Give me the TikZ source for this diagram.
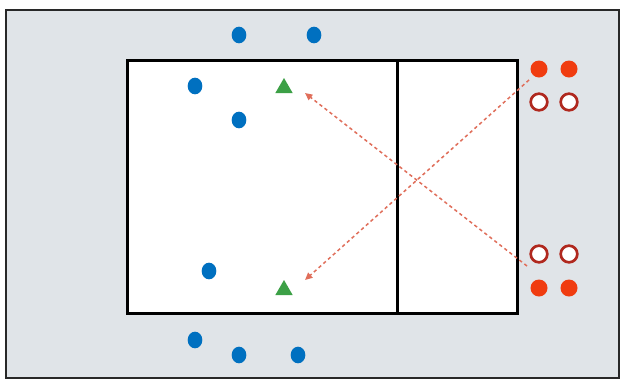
\documentclass[tikz,border=0pt]{standalone}
\usepackage{tikz}
\usetikzlibrary{arrows.meta,shapes.geometric}
\definecolor{floor}{RGB}{224,228,232}
\definecolor{frameline}{RGB}{40,40,40}
\definecolor{teamblue}{RGB}{0,112,192}
\definecolor{setgreen}{RGB}{60,160,70}
\definecolor{teamred}{RGB}{240,60,16}
\definecolor{ringred}{RGB}{176,40,30}
\definecolor{passline}{RGB}{224,110,90}
\tikzset{bp/.style={ellipse,fill=teamblue,minimum width=4.4mm,minimum height=5mm,inner sep=0pt},rp/.style={circle,fill=teamred,minimum size=5.1mm,inner sep=0pt},rq/.style={circle,draw=ringred,line width=0.8mm,fill=white,minimum size=5mm,inner sep=0pt},tri/.style={regular polygon,regular polygon sides=3,fill=setgreen,minimum size=6mm,inner sep=0pt},pass/.style={-{Triangle[length=2.2mm,width=2mm]},draw=passline,line width=0.45mm,dash pattern=on 1mm off 0.9mm}}

\begin{document}
\begin{tikzpicture}[x=0.3mm,y=-0.3mm]
\useasboundingbox (0,0) rectangle (623,380);
\draw[fill=floor,draw=frameline,line width=0.6mm] (6,10) rectangle (619,378);
\draw[fill=white,line width=0.9mm] (127,60) rectangle (517,313);
\draw[line width=0.9mm] (397,60)--(397,313);
% blue side
\node[bp] (b1) at (239,35) {};
\node[bp] (b2) at (314,35) {};
\node[bp] (b3) at (195,86) {};
\node[bp] (b4) at (239,120) {};
\node[bp] (b5) at (209,271) {};
\node[bp] (b6) at (195,340) {};
\node[bp] (b7) at (239,355) {};
\node[bp] (b8) at (298,355) {};
\node[tri] (t1) at (284,88) {};
\node[tri] (t2) at (284,290) {};
% red side
\node[rp] (r1) at (539,69) {};
\node[rp] (r2) at (569,69) {};
\node[rq] (q1) at (539,102) {};
\node[rq] (q2) at (569,102) {};
\node[rq] (q3) at (539,254) {};
\node[rq] (q4) at (569,254) {};
\node[rp] (r3) at (539,288) {};
\node[rp] (r4) at (569,288) {};
\coordinate (s1) at (529,80);
\coordinate (s2) at (527,266);
\coordinate (e1) at (305,280);
\coordinate (e2) at (305,93);
\draw[pass] (s1)--(e1);
\draw[pass] (s2)--(e2);
\end{tikzpicture}
\end{document}
